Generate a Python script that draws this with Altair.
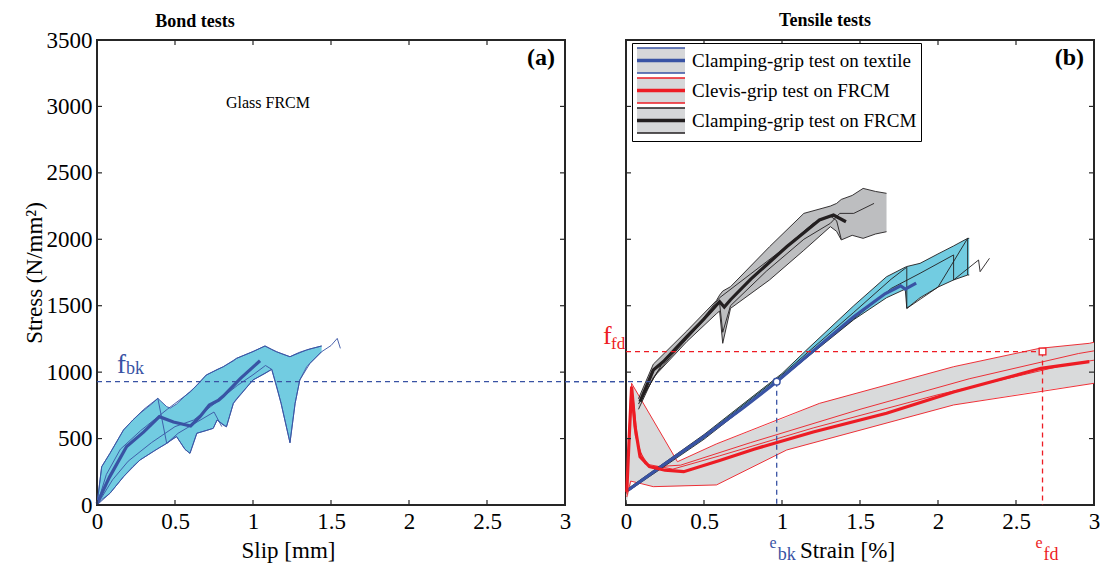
import altair as alt
import pandas as pd

# ---------------------------------------------------------------- ticks
X_TICKS = [0, 0.5, 1, 1.5, 2, 2.5, 3]
Y_TICKS = [0, 500, 1000, 1500, 2000, 2500, 3000, 3500]

# ------------------------------------------- (a) bond tests: slip [mm] / stress
BOND_MEAN_SLIP = [0, 0.08, 0.19, 0.30, 0.40, 0.49, 0.60, 0.66, 0.72, 0.78, 0.81, 0.92, 1.045]
BOND_MEAN_STRESS = [10, 210, 440, 550, 665, 625, 595, 665, 753, 790, 820, 953, 1086]

BOND_ENV_SLIP = [0, 0.03, 0.083, 0.17, 0.23, 0.276, 0.36, 0.39, 0.447, 0.47, 0.51, 0.564,
                 0.596, 0.64, 0.70, 0.745, 0.77, 0.81, 0.83, 0.874, 0.895, 1.0, 1.077,
                 1.12, 1.15, 1.18, 1.237, 1.27, 1.30, 1.344, 1.365, 1.44]
BOND_ENV_LOW = [0, 40, 88, 213, 290, 339, 402, 425, 464, 485, 515, 419,
                389, 540, 560, 577, 640, 600, 589, 765, 800, 941, 990,
                1021, 900, 765, 469, 765, 941, 1040, 1066, 1154]
BOND_ENV_HIGH = [10, 288, 389, 565, 640, 690, 770, 803, 740, 730, 760, 820,
                 853, 900, 978, 1005, 1020, 1041, 1055, 1085, 1104, 1155, 1197,
                 1170, 1154, 1140, 1116, 1135, 1150, 1167, 1175, 1197]

BOND_T1_SLIP = [0, 0.03, 0.083, 0.17, 0.23, 0.30, 0.39, 0.447, 0.52, 0.62, 0.75, 0.80]
BOND_T1_STRESS = [0, 288, 389, 565, 640, 720, 803, 464, 540, 610, 700, 590]
BOND_T2_SLIP = [0, 0.06, 0.15, 0.28, 0.45, 0.60, 0.70, 0.81, 0.895, 1.0, 1.077, 1.15,
                1.237, 1.344, 1.44]
BOND_T2_STRESS = [0, 230, 420, 560, 720, 853, 978, 1041, 1104, 1155, 1197, 1154,
                  1116, 1167, 1197]
BOND_T3_SLIP = [0, 0.083, 0.17, 0.276, 0.36, 0.447, 0.51, 0.564, 0.596, 0.64, 0.745,
                0.77, 0.83, 0.874, 1.0, 1.12]
BOND_T3_STRESS = [0, 88, 213, 339, 402, 464, 515, 419, 389, 540, 577,
                  640, 589, 765, 941, 1021]
BOND_T4_SLIP = [0, 0.1, 0.2, 0.35, 0.5, 0.62, 0.75, 0.9, 1.0, 1.08, 1.12, 1.18,
                1.237, 1.27, 1.30, 1.365, 1.44, 1.50, 1.54, 1.56]
BOND_T4_STRESS = [0, 190, 330, 470, 590, 640, 760, 900, 980, 1050, 1021, 765,
                  469, 765, 941, 1066, 1154, 1200, 1254, 1179]

# ----------------------------------------- (b) tensile tests: strain [%] / stress
TEX_MEAN_STRAIN = [0.015, 0.25, 0.47, 0.75, 0.966, 1.2, 1.46, 1.66, 1.72, 1.76, 1.79, 1.86]
TEX_MEAN_STRESS = [113, 310, 489, 730, 928, 1160, 1417, 1590, 1625, 1650, 1625, 1670]
TEX_ENV_STRAIN = [0.015, 0.5, 1.0, 1.16, 1.46, 1.67, 1.79, 1.80, 1.885, 2.0, 2.10, 2.19, 2.20]
TEX_ENV_LOW = [105, 495, 955, 1110, 1395, 1560, 1625, 1480, 1560, 1640, 1694, 1731, 1731]
TEX_ENV_HIGH = [125, 530, 990, 1170, 1500, 1718, 1790, 1795, 1819, 1890, 1950, 2007, 2007]
TEX_T1_STRAIN = [0.015, 0.5, 1.0, 1.46, 1.7, 1.885, 2.10, 2.10, 2.26, 2.27, 2.33]
TEX_T1_STRESS = [110, 505, 965, 1400, 1630, 1744, 1882, 1694, 1844, 1756, 1857]
TEX_T2_STRAIN = [0.015, 0.5, 1.0, 1.46, 1.70, 1.80, 1.80, 2.0, 2.19, 2.19]
TEX_T2_STRESS = [118, 520, 980, 1450, 1700, 1790, 1480, 1640, 2007, 1731]

CLAMP_MEAN_STRAIN = [0.09, 0.175, 0.24, 0.39, 0.5, 0.60, 0.63, 0.67, 0.8, 1.03, 1.14, 1.24, 1.33, 1.41]
CLAMP_MEAN_STRESS = [778, 1016, 1080, 1267, 1400, 1530, 1490, 1545, 1700, 1944, 2050, 2145, 2183, 2132]
CLAMP_ENV_STRAIN = [0.08, 0.175, 0.39, 0.58, 0.60, 0.62, 0.67, 0.92, 1.14, 1.31, 1.35, 1.38,
                    1.45, 1.52, 1.60, 1.67]
CLAMP_ENV_LOW = [720, 960, 1230, 1440, 1460, 1217, 1480, 1694, 1917, 2095, 2060, 1995,
                 2030, 2007, 2040, 2057]
CLAMP_ENV_HIGH = [800, 1060, 1310, 1540, 1580, 1610, 1643, 1944, 2195, 2250, 2270, 2300,
                  2330, 2383, 2360, 2346]
CLAMP_T1_STRAIN = [0.08, 0.2, 0.39, 0.6, 0.62, 0.67, 0.9, 1.14, 1.31, 1.37, 1.46, 1.59]
CLAMP_T1_STRESS = [760, 1000, 1250, 1520, 1300, 1500, 1760, 2000, 2120, 2195, 2195, 2270]
CLAMP_T2_STRAIN = [0.1, 0.25, 0.45, 0.6, 0.8, 1.0, 1.2, 1.31, 1.35, 1.38]
CLAMP_T2_STRESS = [800, 1100, 1340, 1560, 1740, 1920, 2120, 2175, 2140, 2000]

CLEV_MEAN_STRAIN = [0.005, 0.02, 0.036, 0.058, 0.09, 0.15, 0.25, 0.37, 0.6, 0.82, 1.2, 1.67, 2.1, 2.66, 2.97]
CLEV_MEAN_STRESS = [100, 500, 891, 590, 364, 289, 262, 251, 335, 420, 550, 690, 850, 1029, 1079]
CLEV_ENV_STRAIN = [0, 0.036, 0.1, 0.175, 0.33, 0.58, 1.03, 1.24, 2.1, 2.65, 2.97, 3.0]
CLEV_ENV_LOW = [0, 180, 160, 138, 142, 151, 414, 480, 753, 860, 910, 916]
CLEV_ENV_HIGH = [100, 916, 788, 637, 326, 460, 660, 765, 1041, 1179, 1217, 1225]
CLEV_T1_STRAIN = [0.005, 0.036, 0.33, 0.58, 1.24, 2.1, 2.65, 2.97, 3.0]
CLEV_T1_STRESS = [100, 916, 326, 460, 765, 1041, 1179, 1217, 1225]
CLEV_T2_STRAIN = [0.005, 0.03, 0.1, 0.175, 0.58, 1.03, 2.1, 3.0]
CLEV_T2_STRESS = [60, 180, 160, 138, 151, 414, 753, 916]
CLEV_T3_STRAIN = [0.005, 0.025, 0.045, 0.08, 0.15, 0.35, 0.8, 1.5, 2.2, 2.9, 3.0]
CLEV_T3_STRESS = [90, 700, 820, 420, 285, 300, 470, 720, 950, 1140, 1160]
CLEV_T4_STRAIN = [0.005, 0.03, 0.06, 0.12, 0.3, 0.6, 1.2, 2.0, 2.8, 3.0]
CLEV_T4_STRESS = [80, 860, 520, 310, 270, 370, 580, 830, 1050, 1090]

# characteristic values
BK_STRAIN, BK_STRESS = 0.966, 928
FD_STRAIN, FD_STRESS = 2.67, 1155

SERIES = ["Clamping-grip test on textile", "Clevis-grip test on FRCM",
          "Clamping-grip test on FRCM"]

# ---------------------------------------------------------------- styling
FONT = "Liberation Serif"
W, H = 468, 465
SPACING = 61
TICK = 5
BLUE = "#3953a4"
RED = "#ed1c24"
BLACK = "#231f20"
CYAN = "#72cce1"
GRAY_RED = "#d9dadb"
GRAY_CLAMP = "#bdbec0"
FRAME = "#262626"
GAP_STRAIN = SPACING / (W / 3)
FS = 23

X_SCALE = alt.Scale(domain=[0, 3], nice=False, zero=False)
Y_SCALE = alt.Scale(domain=[0, 3500], nice=False, zero=False)


def x_axis(title, title_x):
    return alt.Axis(values=X_TICKS, format="~g", title=title, ticks=False, domain=False,
                    grid=False, labelFont=FONT, labelFontSize=FS, labelColor="black",
                    labelPadding=5, labelFlush=False, labelOverlap=False,
                    titleFont=FONT, titleFontSize=FS, titleFontWeight="normal",
                    titleColor="black", titlePadding=6, titleX=title_x)


Y_AXIS_A = alt.Axis(values=Y_TICKS, format="d", title="Stress (N/mm²)", ticks=False,
                    domain=False, grid=False, labelFont=FONT, labelFontSize=FS,
                    labelColor="black", labelPadding=5, labelFlush=False,
                    titleFont=FONT, titleFontSize=FS, titleFontWeight="normal",
                    titleColor="black", titlePadding=0)


def encoders(xa, ya):
    def ex(field="x"):
        return alt.X(f"{field}:Q", scale=X_SCALE, axis=xa)

    def ey(field="y"):
        return alt.Y(f"{field}:Q", scale=Y_SCALE, axis=ya)
    return ex, ey


def curve_df(xs, ys):
    return pd.DataFrame({"x": xs, "y": ys, "i": range(len(xs))})


def env_df(xs, lo, hi):
    return pd.DataFrame({"x": xs, "lo": lo, "hi": hi})


def band(ex, ey, xs, lo, hi, fill):
    return alt.Chart(env_df(xs, lo, hi)).mark_area(color=fill, opacity=1).encode(
        x=ex(), y=ey("lo"), y2=alt.Y2("hi:Q"))


def line(ex, ey, xs, ys, color, width, dash=None):
    kw = dict(color=color, strokeWidth=width)
    if dash:
        kw["strokeDash"] = dash
    return alt.Chart(curve_df(xs, ys)).mark_line(**kw).encode(x=ex(), y=ey(), order="i:Q")


def frame_ticks(ex, ey):
    xt = pd.DataFrame({"v": X_TICKS})
    yt = pd.DataFrame({"v": Y_TICKS})
    r = dict(color=FRAME, strokeWidth=1.2)
    return [
        alt.Chart(xt).mark_rule(**r).encode(x=ex("v"), y=alt.value(H), y2=alt.value(H - TICK)),
        alt.Chart(xt).mark_rule(**r).encode(x=ex("v"), y=alt.value(0), y2=alt.value(TICK)),
        alt.Chart(yt).mark_rule(**r).encode(y=ey("v"), x=alt.value(0), x2=alt.value(TICK)),
        alt.Chart(yt).mark_rule(**r).encode(y=ey("v"), x=alt.value(W), x2=alt.value(W - TICK)),
    ]


def panel_tag(text):
    return alt.Chart(pd.DataFrame({"t": [text]})).mark_text(
        text=text, font=FONT, fontSize=24, fontWeight="bold", color="black",
        align="right", baseline="top").encode(x=alt.value(W - 10), y=alt.value(6))


def panel_title(text, dx, offset):
    return alt.TitleParams(text, font=FONT, fontSize=18, fontWeight="bold", color="black",
                           offset=offset, anchor="middle", frame="group", dx=dx)


# ------------------------------------------------------------ panel (a)
exa, eya = encoders(x_axis("Slip [mm]", 191), Y_AXIS_A)

bond_layers = [band(exa, eya, BOND_ENV_SLIP, BOND_ENV_LOW, BOND_ENV_HIGH, CYAN)]
bond_layers += [line(exa, eya, BOND_ENV_SLIP, BOND_ENV_HIGH, BLUE, 0.9),
                line(exa, eya, BOND_ENV_SLIP, BOND_ENV_LOW, BLUE, 0.9)]
for xs, ys in [(BOND_T1_SLIP, BOND_T1_STRESS), (BOND_T2_SLIP, BOND_T2_STRESS),
               (BOND_T3_SLIP, BOND_T3_STRESS), (BOND_T4_SLIP, BOND_T4_STRESS)]:
    bond_layers.append(line(exa, eya, xs, ys, BLUE, 0.9))
bond_layers.append(line(exa, eya, BOND_MEAN_SLIP, BOND_MEAN_STRESS, BLUE, 3.2))
# f_bk level, carried across into the tensile panel
bond_layers.append(line(exa, eya, [0, 3 + GAP_STRAIN], [BK_STRESS, BK_STRESS], BLUE, 1.3, [5, 4]))
one_bk = pd.DataFrame({"y": [BK_STRESS]})
bond_layers.append(alt.Chart(one_bk).mark_text(
    text="f", font=FONT, fontSize=27, color=BLUE, align="left", baseline="alphabetic",
    dy=-9).encode(x=alt.value(20), y=eya()))
bond_layers.append(alt.Chart(one_bk).mark_text(
    text="bk", font=FONT, fontSize=18, color=BLUE, align="left", baseline="alphabetic",
    dy=-8).encode(x=alt.value(29), y=eya()))
bond_layers.append(alt.Chart(pd.DataFrame({"t": ["Glass FRCM"]})).mark_text(
    text="Glass FRCM", font=FONT, fontSize=16, color="black", align="center",
    baseline="middle").encode(x=alt.value(171), y=alt.value(63)))
bond_layers.append(panel_tag("(a)"))
bond_layers += frame_ticks(exa, eya)

bond = alt.layer(*bond_layers).properties(width=W, height=H,
                                          title=panel_title("Bond tests", -136, -2))

# ------------------------------------------------------------ panel (b)
exb, eyb = encoders(x_axis("Strain  [%]", 221), None)

tens_layers = [
    band(exb, eyb, CLEV_ENV_STRAIN, CLEV_ENV_LOW, CLEV_ENV_HIGH, GRAY_RED),
    band(exb, eyb, CLAMP_ENV_STRAIN, CLAMP_ENV_LOW, CLAMP_ENV_HIGH, GRAY_CLAMP),
    band(exb, eyb, TEX_ENV_STRAIN, TEX_ENV_LOW, TEX_ENV_HIGH, CYAN),
]
for xs, ys in [(CLEV_T1_STRAIN, CLEV_T1_STRESS), (CLEV_T2_STRAIN, CLEV_T2_STRESS),
               (CLEV_T3_STRAIN, CLEV_T3_STRESS), (CLEV_T4_STRAIN, CLEV_T4_STRESS)]:
    tens_layers.append(line(exb, eyb, xs, ys, RED, 0.9))
for xs, ys in [(CLAMP_ENV_STRAIN, CLAMP_ENV_LOW), (CLAMP_ENV_STRAIN, CLAMP_ENV_HIGH),
               (CLAMP_T1_STRAIN, CLAMP_T1_STRESS), (CLAMP_T2_STRAIN, CLAMP_T2_STRESS),
               (TEX_ENV_STRAIN, TEX_ENV_LOW), (TEX_ENV_STRAIN, TEX_ENV_HIGH),
               (TEX_T1_STRAIN, TEX_T1_STRESS), (TEX_T2_STRAIN, TEX_T2_STRESS)]:
    tens_layers.append(line(exb, eyb, xs, ys, BLACK, 0.9))

means = pd.concat([
    curve_df(TEX_MEAN_STRAIN, TEX_MEAN_STRESS).assign(series=SERIES[0]),
    curve_df(CLEV_MEAN_STRAIN, CLEV_MEAN_STRESS).assign(series=SERIES[1]),
    curve_df(CLAMP_MEAN_STRAIN, CLAMP_MEAN_STRESS).assign(series=SERIES[2]),
])
# legend swatch: grey band with coloured edges and a heavy centre line
# (the dash pattern skips the short vertical sides of the band outline)
LEG = alt.Legend(title=None, orient="none", legendX=W + SPACING + 6, legendY=3,
                 symbolType="M-1,-1H2.84V1H-1Z M-1,-0.07H2.84 M-1,0H2.84 M-1,0.07H2.84",
                 symbolSize=625, symbolStrokeWidth=1.6, symbolDash=[48, 25],
                 symbolFillColor="#d6d7d9",
                 labelFont=FONT, labelFontSize=19, labelColor="black", labelOffset=29,
                 labelLimit=400, padding=4, rowPadding=-3, strokeColor="black",
                 fillColor="white")
tens_layers.append(alt.Chart(means).mark_line(strokeWidth=3.2).encode(
    x=exb(), y=eyb(), order="i:Q",
    color=alt.Color("series:N", scale=alt.Scale(domain=SERIES, range=[BLUE, RED, BLACK]),
                    legend=LEG)))

# characteristic strain/stress guides
tens_layers += [
    line(exb, eyb, [-GAP_STRAIN, BK_STRAIN], [BK_STRESS, BK_STRESS], BLUE, 1.3, [5, 4]),
    line(exb, eyb, [BK_STRAIN, BK_STRAIN], [BK_STRESS, 0], BLUE, 1.3, [5, 4]),
    line(exb, eyb, [0, FD_STRAIN], [FD_STRESS, FD_STRESS], RED, 1.3, [5, 4]),
    line(exb, eyb, [FD_STRAIN, FD_STRAIN], [FD_STRESS, 0], RED, 1.3, [5, 4]),
]
tens_layers.append(alt.Chart(pd.DataFrame({"x": [BK_STRAIN], "y": [BK_STRESS]})).mark_point(
    shape="circle", filled=True, fill="white", stroke=BLUE, strokeWidth=1.5, size=45,
    opacity=1).encode(x=exb(), y=eyb()))
tens_layers.append(alt.Chart(pd.DataFrame({"x": [FD_STRAIN], "y": [FD_STRESS]})).mark_point(
    shape="square", filled=True, fill="white", stroke=RED, strokeWidth=1.3, size=45,
    opacity=1).encode(x=exb(), y=eyb()))

one_fd = pd.DataFrame({"y": [FD_STRESS]})
tens_layers += [
    alt.Chart(one_fd).mark_text(text="f", font=FONT, fontSize=26, color=RED, align="left",
                                baseline="alphabetic", dy=-8).encode(x=alt.value(-23), y=eyb()),
    alt.Chart(one_fd).mark_text(text="fd", font=FONT, fontSize=17, color=RED, align="left",
                                baseline="alphabetic", dy=-3).encode(x=alt.value(-15), y=eyb()),
]
for sx, col, sub in [(BK_STRAIN, BLUE, "bk"), (FD_STRAIN, RED, "fd")]:
    d = pd.DataFrame({"x": [sx]})
    tens_layers += [
        alt.Chart(d).mark_text(text="e", font=FONT, fontSize=16, color=col, align="right",
                               baseline="alphabetic").encode(x=exb(), y=alt.value(H + 43)),
        alt.Chart(d).mark_text(text=sub, font=FONT, fontSize=18, color=col, align="left",
                               baseline="alphabetic", dx=1).encode(x=exb(), y=alt.value(H + 55)),
    ]
tens_layers.append(panel_tag("(b)"))
tens_layers += frame_ticks(exb, eyb)

tensile = alt.layer(*tens_layers).properties(width=W, height=H,
                                             title=panel_title("Tensile tests", -35, 9))

chart = alt.hconcat(bond, tensile, spacing=SPACING, bounds="flush").properties(
    padding={"left": 22, "top": 11, "right": 5, "bottom": 5}
).configure(font=FONT, background="white").configure_view(
    stroke=FRAME, strokeWidth=2
).configure_axis(labelFont=FONT, titleFont=FONT).configure_legend(
    labelFont=FONT).configure_title(font=FONT)

chart.save("out.html", embed_options={"renderer": "svg", "actions": False})
